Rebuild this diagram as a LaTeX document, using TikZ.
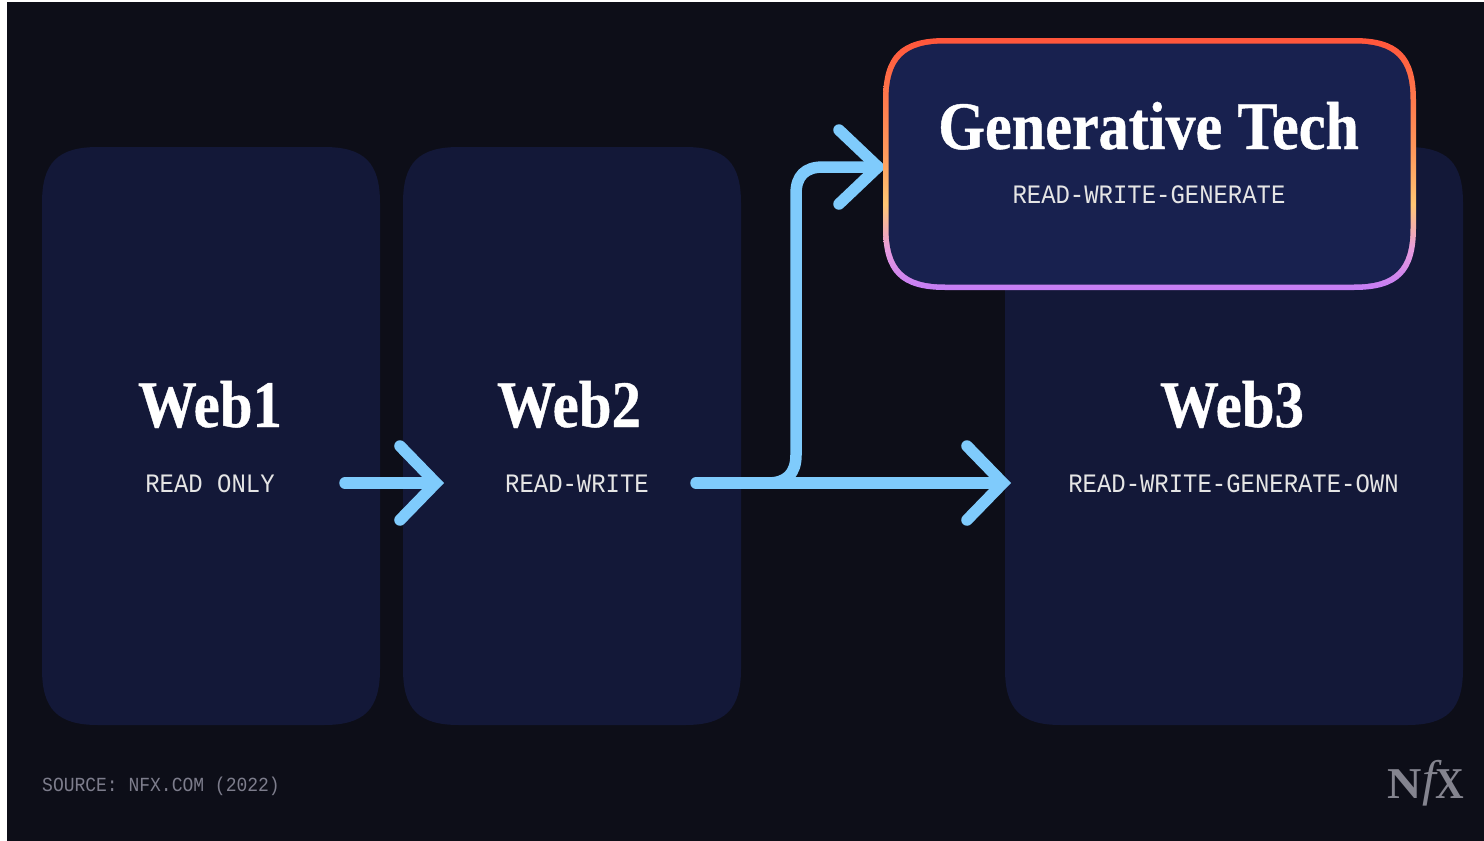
\documentclass[tikz,border=0pt]{standalone}
\usepackage{fontspec}
\usetikzlibrary{arrows.meta}
\setmainfont{Liberation Serif}
\newfontfamily\titlefont[FakeStretch=0.885,FakeBold=0.6]{Liberation Serif Bold}
\newfontfamily\subfont[FakeStretch=0.9]{Liberation Mono}
\newfontfamily\logofont[FakeStretch=1.08]{Liberation Serif Bold}
\newfontfamily\logofontx[FakeStretch=0.9]{Liberation Serif Bold}
\newfontfamily\logoital{Liberation Serif Italic}
\definecolor{bgc}{HTML}{0D0E18}
\definecolor{cardc}{HTML}{131838}
\definecolor{genc}{HTML}{18214F}
\definecolor{arrowc}{HTML}{7FCBFC}
\definecolor{greyc}{HTML}{7D7D8C}
\definecolor{logoc}{HTML}{84848F}
\definecolor{gbpurple}{HTML}{C47CF5}
\definecolor{gbpink}{HTML}{E79ADF}
\definecolor{gbyellow}{HTML}{FFC673}
\definecolor{gborange}{HTML}{FF9A5C}
\definecolor{gbred}{HTML}{FF553B}
\pgfdeclareverticalshading{genborder}{100bp}{
 color(0bp)=(gbpurple);
 color(25bp)=(gbpurple);
 color(33bp)=(gbpink);
 color(42bp)=(gbyellow);
 color(52bp)=(gborange);
 color(75bp)=(gbred);
 color(100bp)=(gbred)}
% soft-cornered rectangle: options, x0,y0,x1,y1,r
\newcommand{\softrect}[6]{%
 \path[#1] ({#2+#6},#3) -- ({#4-#6},#3)
  .. controls ({#4-0.28*#6},#3) and (#4,{#3+0.28*#6}) .. (#4,{#3+#6})
  -- (#4,{#5-#6})
  .. controls (#4,{#5-0.28*#6}) and ({#4-0.28*#6},#5) .. ({#4-#6},#5)
  -- ({#2+#6},#5)
  .. controls ({#2+0.28*#6},#5) and (#2,{#5-0.28*#6}) .. (#2,{#5-#6})
  -- (#2,{#3+#6})
  .. controls (#2,{#3+0.28*#6}) and ({#2+0.28*#6},#3) .. ({#2+#6},#3) -- cycle;}
\begin{document}
\begin{tikzpicture}[x=1pt,y=-1pt,
  card/.style={fill=cardc},
  title/.style={text=white,anchor=base,font=\titlefont\fontsize{66.5}{70}\selectfont,inner sep=0pt},
  bigtitle/.style={title,font=\titlefont\fontsize{68}{70}\selectfont},
  sub/.style={text=white!90!black,anchor=base,font=\subfont\fontsize{26.6}{30}\selectfont,inner sep=0pt},
  flow/.style={draw=arrowc,line width=11.5pt,line cap=round,line join=round},
  headtip/.style={flow,-{Straight Barb[length=36pt,width=74pt,line cap=round,line join=miter]}}]
\useasboundingbox (0,0) rectangle (1484,841);
\fill[white] (0,0) rectangle (1484,841);
\fill[bgc] (7,2) rectangle (1484,841);
% cards
\softrect{card}{42}{147}{380}{725}{56}
\softrect{card}{403}{147}{741}{725}{56}
\softrect{card}{1005}{147}{1463}{725}{56}
\node[minimum width=338pt,minimum height=578pt,inner sep=0pt] (web1) at (211,436) {};
\node[minimum width=338pt,minimum height=578pt,inner sep=0pt] (web2) at (572,436) {};
\node[minimum width=458pt,minimum height=578pt,inner sep=0pt] (web3) at (1234,436) {};
% connectors
\coordinate (s1) at (345,483);
\coordinate (t1) at (444,483);
\coordinate (s2) at (696,483);
\coordinate (t2) at (1011,483);
\coordinate (t3) at (878,167);
\draw[headtip] (s2) -- (t2);
\draw[headtip] (s1) -- (t1);
\draw[flow] (768,483) .. controls (786,483) and (796,474) .. (796,455) -- (796,194) .. controls (796,176) and (805,167) .. (823,167) -- (t3);
\draw[flow] (839,130) -- (t3) -- (839,204);
% generative card
\softrect{shading=genborder}{883}{38}{1416}{290}{62}
\softrect{fill=genc}{888.5}{43.5}{1410.5}{284.5}{57}
\node[minimum width=533pt,minimum height=252pt,inner sep=0pt] (gen) at (1149.5,164) {};
% text
\node[title] (w1t) at (210,427) {Web1};
\node[sub]   (w1s) at (210,492) {READ ONLY};
\node[title] (w2t) at (569,427) {Web2};
\node[sub]   (w2s) at (577,492) {READ-WRITE};
\node[title] (w3t) at (1232,427) {Web3};
\node[sub]   (w3s) at (1233.5,492) {READ-WRITE-GENERATE-OWN};
\node[bigtitle] (gt) at (1148.5,149) {Generative Tech};
\node[sub]   (gs) at (1149,203) {READ-WRITE-GENERATE};
\node[text=greyc,anchor=base west,inner sep=0pt,font=\subfont\fontsize{20}{22}\selectfont] (src) at (42,791) {SOURCE: NFX.COM (2022)};
% logo
\node[text=logoc,anchor=base,inner sep=0pt,font=\logofont\fontsize{44}{50}\selectfont] (ln) at (1405,798) {N};
\node[text=logoc,anchor=base,inner sep=0pt,font=\logoital\fontsize{50}{60}\selectfont] (lf) at (1429.5,795) {f};
\node[text=logoc,anchor=base,inner sep=0pt,font=\logofontx\fontsize{44}{50}\selectfont] (lx) at (1450,798) {X};
\end{tikzpicture}
\end{document}
